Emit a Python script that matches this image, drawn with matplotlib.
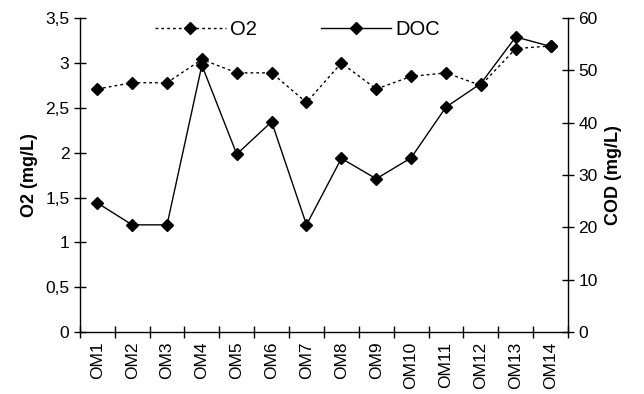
import matplotlib.pyplot as plt
from matplotlib.ticker import FuncFormatter

plt.rcParams['font.family'] = ['Liberation Sans', 'DejaVu Sans']

# Dados
pontos = ['OM1', 'OM2', 'OM3', 'OM4', 'OM5', 'OM6', 'OM7',
          'OM8', 'OM9', 'OM10', 'OM11', 'OM12', 'OM13', 'OM14']
o2 = [2.71, 2.78, 2.78, 3.04, 2.89, 2.89, 2.56,
      3.00, 2.71, 2.85, 2.89, 2.75, 3.16, 3.19]
doc = [24.7, 20.5, 20.5, 51.0, 34.0, 40.2, 20.5,
       33.2, 29.3, 33.3, 43.0, 47.5, 56.4, 54.6]

fig = plt.figure(figsize=(6.44, 3.94), dpi=100)
ax = fig.add_axes([0.124, 0.157, 0.758, 0.797])
ax2 = ax.twinx()

x = range(len(pontos))
l1, = ax.plot(x, o2, color='black', linestyle=(0, (2, 2.2)), linewidth=1,
              marker='D', markersize=6, label='O2')
l2, = ax2.plot(x, doc, color='black', linestyle='-', linewidth=1,
               marker='D', markersize=6, label='DOC')

ax.set_xlim(-0.5, len(pontos) - 0.5)
ax.set_ylim(0, 3.5)
ax2.set_ylim(0, 60)
ax.set_yticks([0, 0.5, 1, 1.5, 2, 2.5, 3, 3.5])
ax.yaxis.set_major_formatter(FuncFormatter(lambda v, p: f'{v:g}'.replace('.', ',')))
ax2.set_yticks(range(0, 61, 10))

ax.set_xticks([i + 0.5 for i in range(-1, len(pontos))], minor=False)
ax.set_xticklabels([])
ax.set_xticks(list(x), minor=True)
ax.set_xticklabels(pontos, minor=True, rotation=90, fontsize=12.5)
ax.tick_params(axis='x', which='minor', length=0, pad=7)
ax.tick_params(axis='x', which='major', direction='inout', length=8, width=1)
ax.tick_params(axis='y', direction='inout', length=8, width=1, labelsize=12.5)
ax2.tick_params(axis='y', direction='inout', length=8, width=1, labelsize=12.5)

for a in (ax, ax2):
    a.spines['top'].set_visible(False)
    for s in a.spines.values():
        s.set_linewidth(1)
ax.spines['right'].set_visible(False)
ax2.spines['left'].set_visible(False)
ax2.spines['bottom'].set_visible(False)

ax.set_ylabel('O2 (mg/L)', fontsize=13, fontweight='bold', labelpad=5)
ax2.set_ylabel('COD (mg/L)', fontsize=13, fontweight='bold', labelpad=5)

leg = ax.legend(handles=[l1, l2], loc='upper center', bbox_to_anchor=(0.446, 1.052),
                ncol=2, frameon=False, fontsize=14.5, handlelength=3.5,
                columnspacing=3.2, handletextpad=0.2)

plt.savefig('out.png', dpi=100)
